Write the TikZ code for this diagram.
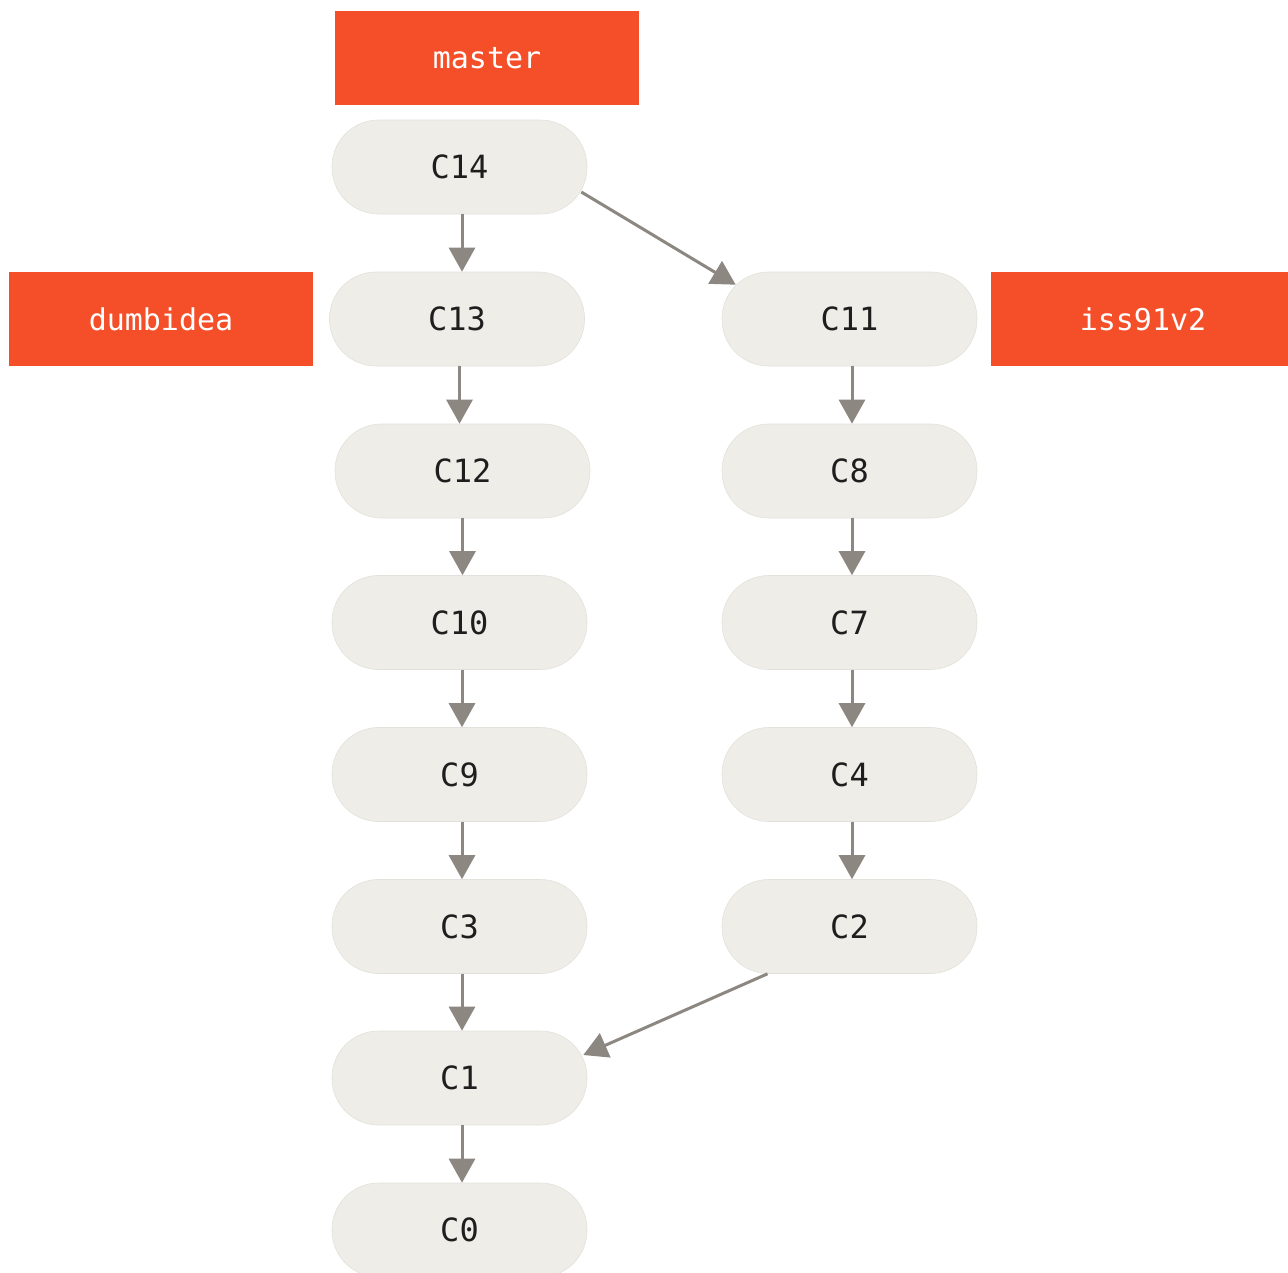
\documentclass[tikz,border=0pt]{standalone}
\usepackage{fontspec}
\setmonofont{DejaVu Sans Mono}
\usetikzlibrary{arrows.meta}
\definecolor{lblred}{HTML}{F54F29}
\definecolor{pillfill}{HTML}{EEEDE7}
\definecolor{pillline}{HTML}{E2E1DB}
\definecolor{arrowgray}{HTML}{8C8781}
\definecolor{txtdark}{HTML}{1E1E1E}
\tikzset{
  commit/.style={shape=rectangle, rounded corners=46.5pt, fill=pillfill, draw=pillline, line width=0.6pt,
    minimum width=255pt, minimum height=94pt, inner sep=0pt, text=txtdark,
    font=\ttfamily\fontsize{32}{38}\selectfont},
  branchlbl/.style={shape=rectangle, fill=lblred, draw=none, minimum width=304pt, minimum height=94pt,
    inner sep=0pt, text=white, font=\ttfamily\fontsize{30}{36}\selectfont},
  parent/.style={draw=arrowgray, line width=3pt, -{Triangle[length=24pt,width=26pt]}}
}
\begin{document}
\begin{tikzpicture}[x=1pt,y=-1pt]
\useasboundingbox (0,0) rectangle (1288,1272);
\clip (0,0) rectangle (1288,1272);
% left column
\node[commit] (C14) at (459.5,167) {C14};
\node[commit] (C13) at (457,319) {C13};
\node[commit] (C12) at (462.5,471) {C12};
\node[commit] (C10) at (459.5,622.5) {C10};
\node[commit] (C9) at (459.5,774.5) {C9};
\node[commit] (C3) at (459.5,926.5) {C3};
\node[commit] (C1) at (459.5,1078) {C1};
\node[commit] (C0) at (459.5,1230) {C0};
% right column
\node[commit] (C11) at (849.5,319) {C11};
\node[commit] (C8) at (849.5,471) {C8};
\node[commit] (C7) at (849.5,622.5) {C7};
\node[commit] (C4) at (849.5,774.5) {C4};
\node[commit] (C2) at (849.5,926.5) {C2};
% branch labels
\node[branchlbl] (master) at (487,58) {master};
\node[branchlbl] (dumbidea) at (161,319) {dumbidea};
\node[branchlbl] (iss91v2) at (1143,319) {iss91v2};
% parent links
\draw[parent] ([xshift=2.5pt]C14.south) -- ([xshift=2.5pt]C14.south |- C13.north);
\draw[parent] ([xshift=2.5pt]C13.south) -- ([xshift=2.5pt]C13.south |- C12.north);
\draw[parent] (C12.south) -- (C12.south |- C10.north);
\draw[parent] ([xshift=2.5pt]C10.south) -- ([xshift=2.5pt]C10.south |- C9.north);
\draw[parent] ([xshift=2.5pt]C9.south) -- ([xshift=2.5pt]C9.south |- C3.north);
\draw[parent] ([xshift=2.5pt]C3.south) -- ([xshift=2.5pt]C3.south |- C1.north);
\draw[parent] ([xshift=2.5pt]C1.south) -- ([xshift=2.5pt]C1.south |- C0.north);
\draw[parent] ([xshift=2.5pt]C11.south) -- ([xshift=2.5pt]C11.south |- C8.north);
\draw[parent] ([xshift=2.5pt]C8.south) -- ([xshift=2.5pt]C8.south |- C7.north);
\draw[parent] ([xshift=2.5pt]C7.south) -- ([xshift=2.5pt]C7.south |- C4.north);
\draw[parent] ([xshift=2.5pt]C4.south) -- ([xshift=2.5pt]C4.south |- C2.north);
\draw[parent] ([shift={(-6,25)}]C14.east) -- ([shift={(14,13)}]C11.north west);
\draw[parent] ([shift={(-82,0)}]C2.south) -- ([shift={(-4,-23)}]C1.east);
\end{tikzpicture}
\end{document}
